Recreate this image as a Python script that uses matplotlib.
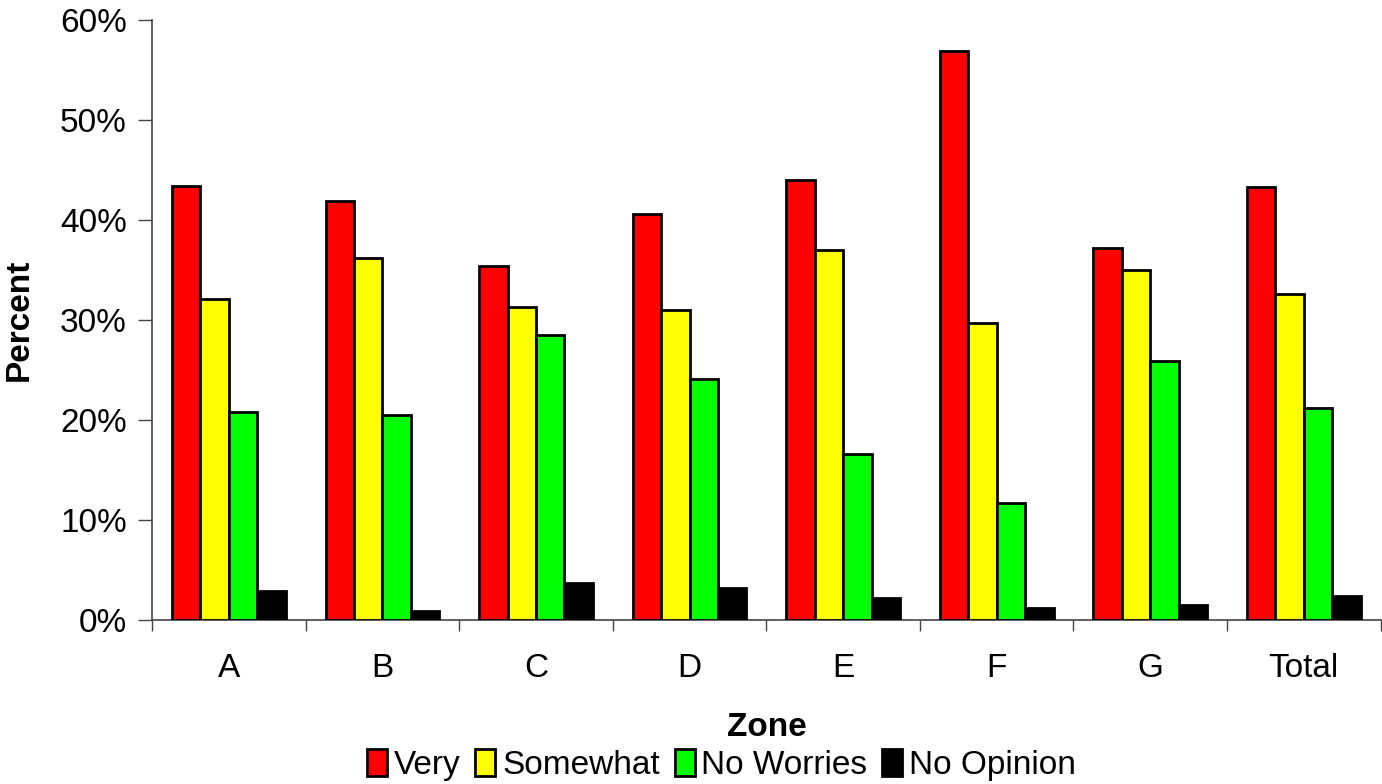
import matplotlib
matplotlib.use("Agg")
import matplotlib.pyplot as plt
import numpy as np
from matplotlib.ticker import FixedLocator, NullFormatter

plt.rcParams['font.family'] = ['Liberation Sans', 'DejaVu Sans']

# data
zones = ['A', 'B', 'C', 'D', 'E', 'F', 'G', 'Total']
very = [43.4, 41.9, 35.4, 40.6, 44.0, 56.9, 37.2, 43.3]
somewhat = [32.1, 36.2, 31.3, 31.0, 37.0, 29.7, 35.0, 32.6]
no_worries = [20.8, 20.5, 28.5, 24.1, 16.6, 11.7, 25.9, 21.2]
no_opinion = [2.9, 0.9, 3.7, 3.2, 2.2, 1.2, 1.5, 2.4]

series = [very, somewhat, no_worries, no_opinion]
labels = ['Very', 'Somewhat', 'No Worries', 'No Opinion']
colors = ['#ff0000', '#ffff00', '#00ff00', '#000000']

H = 784
fig = plt.figure(figsize=(13.82, 7.84), dpi=100)
ax = fig.add_axes([0.110, 0.209, 0.889, 0.7655])

x = np.arange(len(zones))
w = 0.185
for i, (vals, lab, c) in enumerate(zip(series, labels, colors)):
    ax.bar(x + (i - 1.5) * w, vals, w, color=c, edgecolor='black',
           linewidth=2.0, label=lab, zorder=3)

ax.set_xlim(-0.5, len(zones) - 0.5)
ax.set_ylim(0, 60)
ax.set_yticks(range(0, 61, 10))
ax.set_yticklabels([f'{v}%' for v in range(0, 61, 10)], fontsize=24)

ax.set_xticks(x)
ax.set_xticklabels(zones, fontsize=24)
ax.tick_params(axis='x', which='major', length=0, pad=24)
ax.xaxis.set_minor_locator(FixedLocator(np.arange(-0.5, len(zones), 1)))
ax.xaxis.set_minor_formatter(NullFormatter())
ax.tick_params(axis='x', which='minor', length=8, width=1, color='#444444')
ax.tick_params(axis='y', length=10, width=1, color='#444444', pad=8)

for s in ['top', 'right']:
    ax.spines[s].set_visible(False)
for s in ['left', 'bottom']:
    ax.spines[s].set_color('#444444')
    ax.spines[s].set_linewidth(1.2)

ax.set_ylabel('Percent', fontsize=24, fontweight='bold', labelpad=18)
fig.text(0.555, 1 - 728 / H, 'Zone', fontsize=24, fontweight='bold',
         ha='center', va='center')

fig.legend(loc='center', bbox_to_anchor=(0.522, 1 - 765 / H), ncol=4,
           frameon=False, fontsize=24, handlelength=0.6, handleheight=0.85,
           handletextpad=0.2, columnspacing=0.45, borderpad=0)

fig.savefig('out.png', dpi=100)
